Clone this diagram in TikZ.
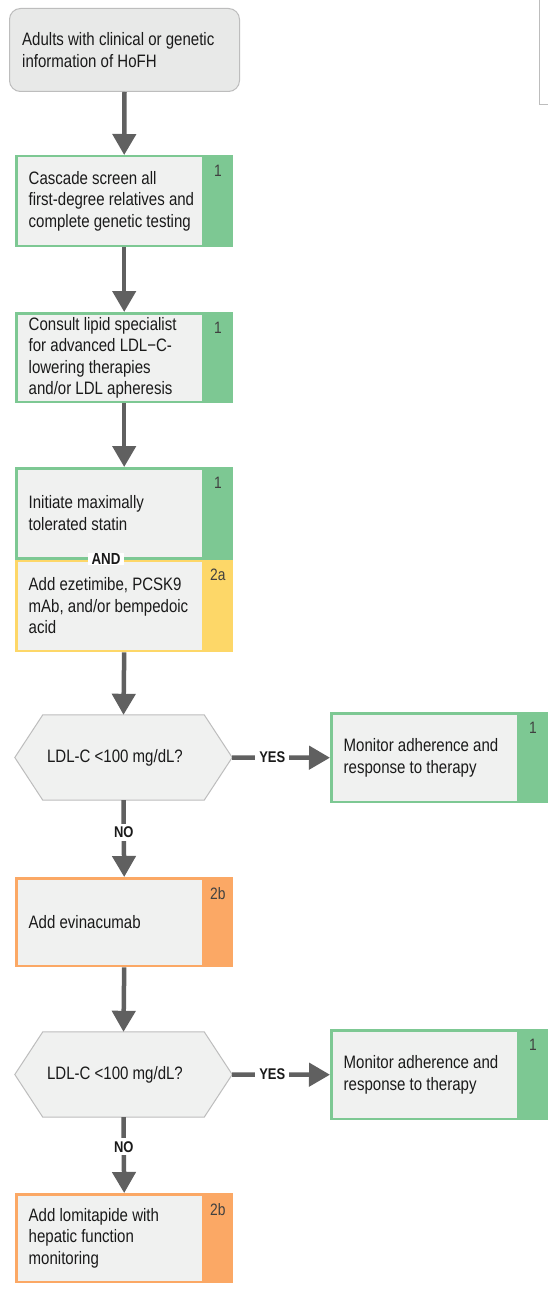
\documentclass[tikz,border=0pt]{standalone}
\usepackage{fontspec}
\setmainfont{Liberation Sans}[FakeStretch=0.835]
\usetikzlibrary{arrows.meta,calc}
\definecolor{grn}{HTML}{7DC893}
\definecolor{ylw}{HTML}{FDD768}
\definecolor{org}{HTML}{FBA865}
\definecolor{lightfill}{HTML}{F0F1F0}
\definecolor{startfill}{HTML}{E8E9E8}
\definecolor{edgegray}{HTML}{BDBDBD}
\definecolor{arrgray}{HTML}{606060}
\definecolor{textc}{HTML}{1A1A1A}
\definecolor{lvlc}{HTML}{404040}
\newcommand{\mainsz}{\fontsize{18}{21.5}\selectfont}
\newcommand{\lvlsz}{\fontsize{16.5}{18}\selectfont}
\newcommand{\recbox}[7]{%
  \node[rbox, fill=#5, minimum height={(#4-#3)*1pt}] (#1) at (#2,#3) {};
  \fill[lightfill] ([shift={(2.5pt,-2.5pt)}]#1.north west) rectangle ([shift={(-31pt,2.5pt)}]#1.south east);
  \node[lvl] at ([xshift=-15.5pt, yshift=-10pt]#1.north east) {#6};
  \node[txt] at ([xshift=13.5pt]#1.west) {#7};
}
\tikzset{
  rbox/.style={rectangle, inner sep=0pt, anchor=north west, minimum width=218pt},
  txt/.style={anchor=west, align=left, font=\mainsz, text=textc, inner sep=0pt},
  lvl/.style={font=\lvlsz, text=lvlc, anchor=north, inner sep=0pt},
  arr/.style={draw=arrgray, line width=4.5pt, -{Triangle[length=21pt,width=23pt]}},
  yn/.style={font=\fontsize{15.5}{17}\selectfont\bfseries, text=textc, fill=white, inner xsep=4pt, inner ysep=3pt},
  hexnode/.style={minimum width=217pt, minimum height=85pt, inner sep=0pt},
  hexpath/.style={fill=lightfill, draw=edgegray, line width=1pt},
}
\begin{document}
\begin{tikzpicture}[x=1pt,y=-1pt]
\useasboundingbox (0,0) rectangle (548,1289);
\fill[white] (0,0) rectangle (548,1289);
% stray frame at top right
\draw[edgegray, line width=1pt] (539.5,0) -- (539.5,105) -- (548,105);

% start
\node[rectangle, rounded corners=11pt, fill=startfill, draw=edgegray, line width=1pt,
      minimum width=230pt, minimum height=83pt, anchor=north west, inner sep=0pt] (s) at (9,8) {};
\node[txt] at ([xshift=13pt]s.west) {Adults with clinical or genetic\\information of HoFH};

\recbox{b1}{15}{155}{247}{grn}{1}{Cascade screen all\\first-degree relatives and\\complete genetic testing}
\recbox{b2}{15}{312}{403}{grn}{1}{Consult lipid specialist\\for advanced LDL−C-\\lowering therapies\\and/or LDL apheresis}
\recbox{b3}{15}{467}{559}{grn}{1}{Initiate maximally\\tolerated statin}
\recbox{b4}{15}{559}{652}{ylw}{2a}{Add ezetimibe, PCSK9\\mAb, and/or bempedoic\\acid}
\fill[grn] (15,557.5) rectangle (233,560);
\node[font=\fontsize{16}{18}\selectfont\bfseries, text=textc, fill=white, inner xsep=4pt, inner ysep=0.5pt] (and) at (106,558.5) {AND};

% decision 1
\node[hexnode] (h1) at (123.5,757.5) {};
\draw[hexpath] (h1.west) -- ([xshift=28pt]h1.north west) -- ([xshift=-28pt]h1.north east) -- (h1.east) -- ([xshift=-28pt]h1.south east) -- ([xshift=28pt]h1.south west) -- cycle;
\node[txt, anchor=center] at (115,757.5) {LDL-C <100 mg/dL?};

\recbox{m1}{330}{712}{803}{grn}{1}{Monitor adherence and\\response to therapy}
\recbox{e1}{15}{877}{967}{org}{2b}{Add evinacumab}

% decision 2
\node[hexnode] (h2) at (123.5,1074.5) {};
\draw[hexpath] (h2.west) -- ([xshift=28pt]h2.north west) -- ([xshift=-28pt]h2.north east) -- (h2.east) -- ([xshift=-28pt]h2.south east) -- ([xshift=28pt]h2.south west) -- cycle;
\node[txt, anchor=center] at (115,1074.5) {LDL-C <100 mg/dL?};

\recbox{m2}{330}{1029}{1120}{grn}{1}{Monitor adherence and\\response to therapy}
\recbox{l1}{15}{1193}{1283}{org}{2b}{Add lomitapide with\\hepatic function\\monitoring}

% connectors
\draw[arr] (s.south) -- (b1.north);
\draw[arr] (b1.south) -- (b2.north);
\draw[arr] (b2.south) -- (b3.north);
\draw[arr] (b4.south) -- (h1.north);
\draw[arr] (h1.east) -- node[yn, pos=0.41] {YES} (m1.west);
\draw[arr] (h1.south) -- node[yn, pos=0.42] {NO} (e1.north);
\draw[arr] (e1.south) -- (h2.north);
\draw[arr] (h2.east) -- node[yn, pos=0.41] {YES} (m2.west);
\draw[arr] (h2.south) -- node[yn, pos=0.39] {NO} (l1.north);
\end{tikzpicture}
\end{document}
